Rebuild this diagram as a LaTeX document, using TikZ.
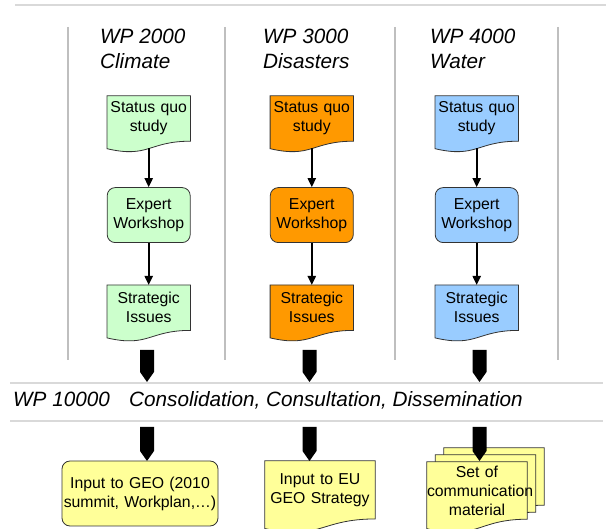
\documentclass[tikz,border=0pt]{standalone}
\usepackage{fontspec}
\setmainfont{Liberation Sans}
\usetikzlibrary{arrows.meta,backgrounds,positioning,calc}
\definecolor{climgreen}{HTML}{CCFFCC}
\definecolor{disorange}{HTML}{FF9900}
\definecolor{watblue}{HTML}{99CCFF}
\definecolor{outyellow}{HTML}{FFFF99}
\tikzstyle{wptitle}=[inner sep=0, anchor=base west, font=\fontsize{20.7}{25}\selectfont\itshape]
\tikzstyle{boxtext}=[inner sep=0, align=center, font=\fontsize{15.8}{19}\selectfont]
\tikzstyle{docnode}=[boxtext, rectangle, minimum height=45pt]
\tikzstyle{roundbox}=[boxtext, rectangle, rounded corners=8pt, draw=black!80, line width=0.8pt, minimum height=55pt]
\tikzstyle{connect}=[-{Triangle[length=9pt,width=8pt]}, line width=2pt]
\tikzstyle{sepline}=[line width=2pt, black!15]
\tikzstyle{colline}=[line width=1.2pt, black!25]
% document outline below a node, wavy bottom edge
\newcommand{\docshape}[2]{%
  \path[draw=black!80, line width=0.8pt, fill=#2] let \p1=($(#1.north)-(#1.south)$) in
    (#1.north west) -- (#1.north east) -- (#1.south east)
    .. controls (#1.south) and ([yshift=-0.38*\y1]#1.south) ..
    ([yshift=-0.165*\y1]#1.south west) -- cycle;}
% thick black arrow: x, top, tip
\newcommand{\blockarrow}[3]{%
  \fill (#1-7,#2) -- (#1+7,#2) -- (#1+7,#3-10) -- (#1,#3) -- (#1-7,#3-10) -- cycle;}
\begin{document}
\begin{tikzpicture}[x=1pt,y=-1pt]
  \useasboundingbox (0,0) rectangle (606,529);
  \draw[sepline] (15,5) -- (606,5);
  \draw[colline] (68,27) -- (68,360);
  \draw[colline] (225,27) -- (225,360);
  \draw[colline] (395,27) -- (395,360);
  \draw[colline] (558,27) -- (558,360);
  \draw[sepline] (10,383) -- (603,383);
  \draw[sepline] (10,421) -- (603,421);

  % work package titles
  \node[wptitle] (WPc) at (100,44) {WP 2000};
  \node[wptitle] (Clim) at (100,69) {Climate};
  \node[wptitle] (WPd) at (263,44) {WP 3000};
  \node[wptitle] (Dis) at (263,69) {Disasters};
  \node[wptitle] (WPw) at (430,44) {WP 4000};
  \node[wptitle] (Wat) at (430,69) {Water};

  % climate
  \node[docnode, text width=83pt] (SqC) at (148.7,118.5) {Status quo\\study};
  \node[roundbox, fill=climgreen, text width=83pt] (ExC) [below=46pt of SqC] {Expert\\Workshop};
  \node[docnode, text width=83pt] (StC) [below=42pt of ExC] {Strategic\\Issues};
  % disasters
  \node[docnode, text width=83pt] (SqD) at (311.8,118.5) {Status quo\\study};
  \node[roundbox, fill=disorange, text width=83pt] (ExD) [below=46pt of SqD] {Expert\\Workshop};
  \node[docnode, text width=83pt] (StD) [below=42pt of ExD] {Strategic\\Issues};
  % water
  \node[docnode, text width=83pt] (SqW) at (476.7,118.5) {Status quo\\study};
  \node[roundbox, fill=watblue, text width=83pt] (ExW) [below=46pt of SqW] {Expert\\Workshop};
  \node[docnode, text width=83pt] (StW) [below=42pt of ExW] {Strategic\\Issues};

  \path ([yshift=-7.3pt]SqC.south) edge [connect] (ExC.north)
        (ExC.south) edge [connect] (StC.north)
        ([yshift=-7.3pt]SqD.south) edge [connect] (ExD.north)
        (ExD.south) edge [connect] (StD.north)
        ([yshift=-7.3pt]SqW.south) edge [connect] (ExW.north)
        (ExW.south) edge [connect] (StW.north);

  % consolidation
  \node[wptitle] (WPx) at (13,407) {WP 10000};
  \node[wptitle] (Cons) at (129,407) {Consolidation, Consultation, Dissemination};
  \blockarrow{147}{350}{382}
  \blockarrow{309.5}{350}{382}
  \blockarrow{479.5}{350}{382}
  \blockarrow{147}{427}{461}
  \blockarrow{309.5}{427}{461}
  \blockarrow{479.5}{427}{461}

  % outputs
  \node[roundbox, fill=outyellow, text width=156pt, minimum height=65pt] (GEO) at (140,493.5) {Input to GEO (2010\\summit, Workplan,…)};
  \node[docnode, text width=110pt, minimum height=57.7pt] (EU) at (320,489.9) {Input to EU\\GEO Strategy};
  \node[docnode, text width=100pt, minimum height=57pt] (Set) at (477,490.5) {Set of\\communication\\material};
  \node[docnode, text width=100pt, minimum height=57pt] (SetM) at ([xshift=8.5pt,yshift=7pt]Set.center) {};
  \node[docnode, text width=100pt, minimum height=57pt] (SetB) at ([xshift=17pt,yshift=14pt]Set.center) {};

  \begin{scope}[on background layer]
    \docshape{SqC}{climgreen}
    \docshape{StC}{climgreen}
    \docshape{SqD}{disorange}
    \docshape{StD}{disorange}
    \docshape{SqW}{watblue}
    \docshape{StW}{watblue}
    \docshape{EU}{outyellow}
    \docshape{SetB}{outyellow}
    \docshape{SetM}{outyellow}
    \docshape{Set}{outyellow}
  \end{scope}
\end{tikzpicture}
\end{document}
